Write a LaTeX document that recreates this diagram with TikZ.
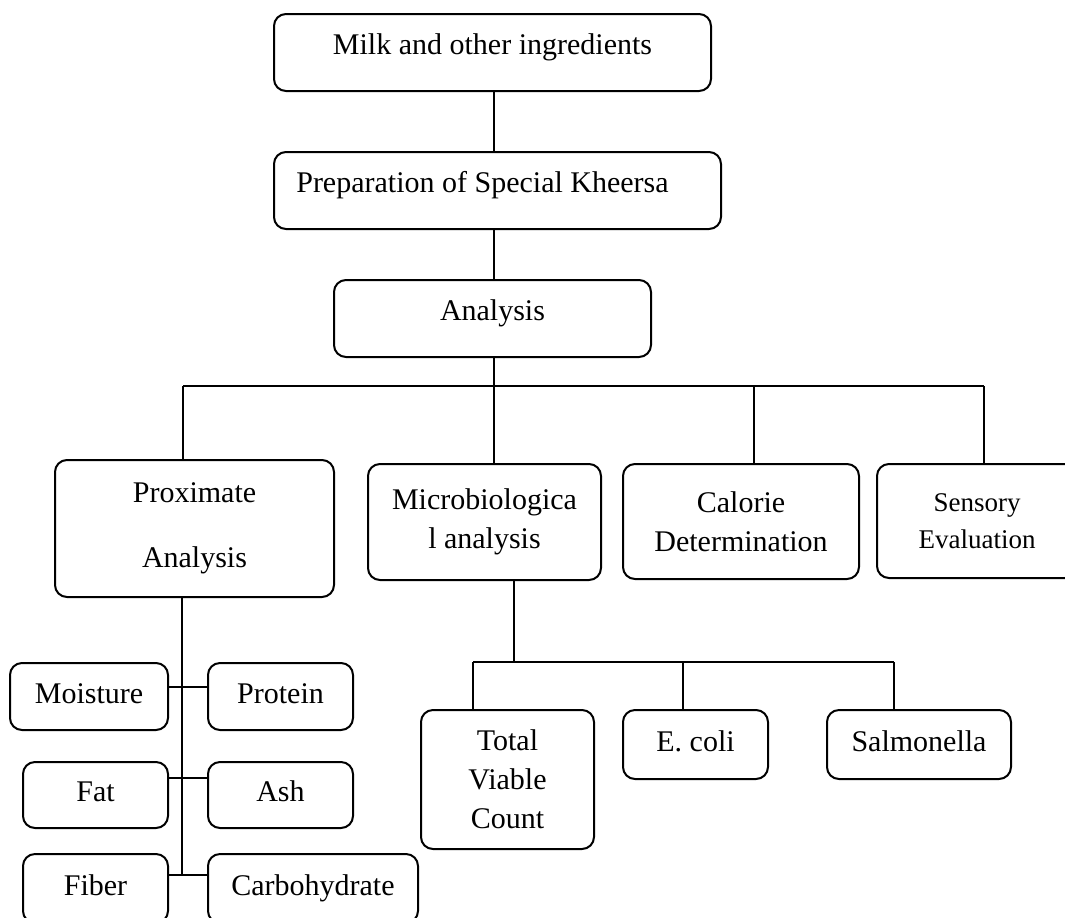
\documentclass[tikz,border=0pt]{standalone}
\usepackage{fontspec}
\setmainfont{Liberation Serif}
\usepackage{tikz}
\usetikzlibrary{positioning,calc}
\newcommand{\boxfont}{\fontsize{15}{19.5}\selectfont}
\newcommand{\smallboxfont}{\fontsize{13.5}{18.5}\selectfont}
\tikzset{
  box/.style={draw=black, fill=white, rounded corners=6pt, line width=1pt,
    align=center, inner sep=0pt, font=\boxfont},
  onebox/.style={box, text height=10.25pt, text depth=3.4pt},
  topbox/.style={box, text height=10.25pt, text depth=8.25pt},
  link/.style={draw=black, line width=1pt}
}

\begin{document}
\begin{tikzpicture}[x=0.5pt,y=-0.5pt]
  \useasboundingbox (0,0) rectangle (1065,917);
  \clip (0,0) rectangle (1065,917);

  \node[topbox, minimum width=218.5pt, minimum height=38.5pt] (milk) at (492.5,52.5)
    {Milk and other ingredients};
  \node[topbox, minimum width=223.5pt, minimum height=38.5pt] (prep) at (497.5,190.5)
    {Preparation of Special Kheersa\hspace*{15pt}};
  \node[topbox, minimum width=158.5pt, minimum height=38.5pt] (ana) at (492.5,318.5)
    {Analysis};

  \node[box, minimum width=139.5pt, minimum height=68.5pt] (prox) at (194.5,528.5)
    {Proximate\\[13pt]Analysis};
  \node[box, minimum width=116.5pt, minimum height=58pt] (micro) at (484.5,522)
    {Microbiologica\\l analysis};
  \node[box, minimum width=118pt, minimum height=57.5pt] (cal) at (741,521.5)
    {Calorie\\Determination};
  \node[box, font=\smallboxfont, minimum width=100pt, minimum height=57pt] (sens) at (977,521)
    {Sensory\\Evaluation};

  \node[box, minimum width=86.5pt, minimum height=69.5pt] (tvc) at (507.5,779.5)
    {Total\\Viable\\Count};
  \node[onebox, minimum width=72.5pt, minimum height=34.5pt] (ecoli) at (695.5,744.5)
    {E. coli};
  \node[onebox, minimum width=92pt, minimum height=34.5pt] (salm) at (919,744.5)
    {Salmonella};

  \node[onebox, minimum width=79pt, minimum height=33.5pt] (moist) at (89,696.5)
    {Moisture};
  \node[onebox, minimum width=72.5pt, minimum height=33.5pt] (prot) at (280.5,696.5)
    {Protein};
  \node[onebox, minimum width=72.5pt, minimum height=33pt] (fat) at (95.5,795)
    {Fat};
  \node[onebox, minimum width=72.5pt, minimum height=33pt] (ash) at (280.5,795)
    {Ash};
  \node[onebox, minimum width=72.5pt, minimum height=34.5pt] (fiber) at (95.5,888.5)
    {Fiber};
  \node[onebox, minimum width=105pt, minimum height=34.5pt] (carb) at (313,888.5)
    {Carbohydrate};

  \coordinate (spine) at (494,0);
  \coordinate (bus) at (494,386);
  \coordinate (busL) at (183,386);
  \coordinate (busC) at (754,386);
  \coordinate (busR) at (984,386);
  \coordinate (subbus) at (514,662);
  \coordinate (subL) at (473,662);
  \coordinate (subM) at (683,662);
  \coordinate (subR) at (894,662);
  \coordinate (trunk) at (182,875);
  \coordinate (rowA) at (182,687);
  \coordinate (rowB) at (182,778);
  \coordinate (rowC) at (182,875);

  \draw[link] (spine |- milk.south) -- (spine |- prep.north);
  \draw[link] (spine |- prep.south) -- (spine |- ana.north);
  \draw[link] (spine |- ana.south) -- (bus);
  \draw[link] (busL) -- (busR);
  \draw[link] (busL) -- (busL |- prox.north);
  \draw[link] (bus) -- (bus |- micro.north);
  \draw[link] (busC) -- (busC |- cal.north);
  \draw[link] (busR) -- (busR |- sens.north);

  \draw[link] (subbus |- micro.south) -- (subbus);
  \draw[link] (subL) -- (subR);
  \draw[link] (subL) -- (subL |- tvc.north);
  \draw[link] (subM) -- (subM |- ecoli.north);
  \draw[link] (subR) -- (subR |- salm.north);

  \draw[link] (trunk |- prox.south) -- (trunk);
  \draw[link] (moist.east |- rowA) -- (prot.west |- rowA);
  \draw[link] (fat.east |- rowB) -- (ash.west |- rowB);
  \draw[link] (fiber.east |- rowC) -- (carb.west |- rowC);
\end{tikzpicture}
\end{document}
